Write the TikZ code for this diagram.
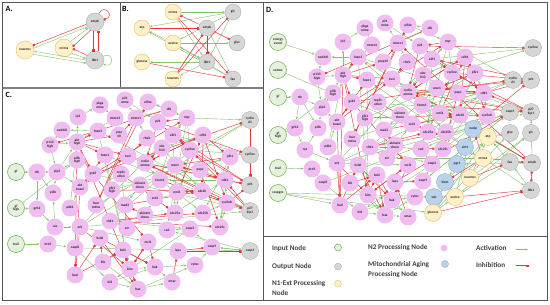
\documentclass[tikz,border=0pt]{standalone}
\usepackage{fontspec}
\setmainfont{Carlito}
\usepackage{xcolor}
\usepackage{tikz}
\usetikzlibrary{arrows.meta,backgrounds}
\definecolor{nodepink}{HTML}{F0BDF0}
\definecolor{nodegray}{HTML}{D6D6D6}
\definecolor{nodeyellow}{HTML}{FFF0C8}
\definecolor{rimyellow}{HTML}{E0C070}
\definecolor{nodegreen}{HTML}{E4F1DC}
\definecolor{rimgreen}{HTML}{72AE4E}
\definecolor{nodeblue}{HTML}{B9D3EC}
\definecolor{actgreen}{HTML}{86C06A}
\definecolor{inhred}{HTML}{E2353D}
\definecolor{framegray}{HTML}{555555}
\definecolor{legendgray}{HTML}{404040}

% links of the N2 network (panels C and D)
\newcommand{\netact}{gf/rtk, gfh/grb2, gfh/pi3kh, rtk/grb2, rtk/pi3k, rtk/pip3, grb2/ras, ras/erk, ras/pi3k,
  pi3k/pip3, pi3kh/pip3, p110h/pip3, p110h/akth, pip3/aktb, pip3/akth, pdk1/aktb, pdk1/akth, mtorc2/akth,
  ip3/pkga, akth/ip3, nedd4l/p110h, pkga/mtorc2, rheb/mtorc1, mtorc1/s6k, mtorc1/p21mma, p21mma/p21,
  s6k/eif4e, eif4e/myc, erk/myc, erk/cycD1, erk/mcl1, myc/cycD1, myc/e2f1, myc/cycE, myc/cad, e2f1/cycE,
  e2f1/cycA, e2f1/cdc25a, e2f1/cycEo, e2f1/foxm1, cycE/cycEo, cycE/cdc25a, cycA/foxm1, cdc25a/cdk1,
  cdc25a/cycE, foxm1/plk1, foxm1/cycB, foxm1/cdc25b, plk1/cdc25c, plk1/cdc25b, cdk1/foxm1, cdk1/plk1,
  cdk1/cdc25c, cycB/cdk1, cdc25b/cycB, cdc25c/cycB, papc/cdk1, ubch10/cdc20, cdh1/ubch10, ukin/mad2,
  akin/ect2, ect2/cdc20, replic/atr, atr/chk1, chk1/wee1, chk1/casp2, casp2/bid, casp2/cad, foxo3/p27,
  foxo3/bim, foxo1/p27, foxo1/bim, foxo3/nedd4l, trail/dr45, dr45/casp8, casp8/bid, casp8/casp3, bid/bax,
  bid/bak, bim/bax, bim/bak, bik/bax, bax/cytoc, bak/cytoc, bax/smac, bak/smac, cytoc/casp9, casp9/casp3,
  casp3/cad, casp3/casp9, casp9/casp2, plk1h/plk1, gsk3/p27, fourm/cycD1, cycA/cdk1, erk/p27}
\newcommand{\netinh}{akth/foxo3, akth/foxo1, akth/tsc2, akth/pras40, akth/gsk3, aktb/gsk3, aktb/bad,
  aktb/foxo1, aktb/tsc2, akth/bad, akth/bim, tsc2/rheb, pras40/mtorc1, s6k/p110h, mtorc1/fourm,
  fourm/eif4e, gsk3/myc, gsk3/cycD1, gsk3/mcl1, p21/cycE, p21/cdk1, p21/cycA, p21/cycEo, p27/cycE,
  p27/cycA, p27/cdk1, prb/e2f1, cycD1/prb, cycE/prb, cycA/prb, cycA/cdh1, cdh1/cycA, cdh1/cycB,
  cdh1/plk1, cdh1/cdc20, emi1/cdh1, emi1/cdc20, cdc20/cycB, cdc20/cycA, cdc20/emi1, wee1/cdk1,
  cdk1/wee1, plk1/wee1, chk1/cdc25a, chk1/cdc25b, chk1/cdc25c, mad2/cdc20, akin/mad2, papc/cdc25c,
  erk/bim, erk/bad, bad/bclxl, bad/bcl2, bik/bcl2, bik/bclxl, bim/bcl2, bim/mcl1, bcl2/bax, bcl2/bak,
  bclxl/bak, bclxl/bax, mcl1/bak, mcl1/bim, iaps/casp9, iaps/casp3, smac/iaps, foxm1/p27, myc/p21,
  plk1h/cdc20, ubch10/cycA, cdk1/prb, cycB/prb, replic/cdc25a}
% extra links of the full network (panel D)
\newcommand{\mitoact}{energy/nedd4l, extros/mtros, caspgro/glucose, caspgro/bad, caspgro/acetca,
  nadp/sirt1, sirt1/pgc1, pgc1/tfam, tfam/atp, ampk/pgc1, ampk/nadp, sirt1/foxo3, sirt1/foxo1,
  glucose/atp, glucose/acetca, glucose/gluc, fao/acetca, fao/atp, ampk/fao, ampk/tsc2, ampk/foxo3,
  ampk/p27, mtros/atr, mtros/vdc, vdc/cytoc, acetca/glv, atp/gluc, nuwnos/atp, acetca/nadp, lkb1/fao,
  mtros/lkb1, nuwnos/glv}
\newcommand{\mitoinh}{ampk/mtorc1, atp/ampk, acetca/lkb1, glucose/lkb1, nuwnos/fao, mtros/tfam,
  mtros/nadp, mtros/ampk, ampk/lkb1, lkb1/ampk}

\begin{document}
\begin{tikzpicture}[
  x=1pt, y=-1pt,
  netnode/.style={circle, inner sep=0pt, minimum size=17pt, align=center,
                  font=\fontsize{3.5}{3.8}\selectfont\bfseries, text=black!85},
  n2/.style={netnode, fill=nodepink},
  n1/.style={netnode, fill=nodeyellow, draw=rimyellow, line width=0.4pt},
  outnode/.style={netnode, fill=nodegray, draw=gray!70, line width=0.3pt},
  inputnode/.style={netnode, fill=nodegreen, draw=rimgreen, line width=0.5pt},
  mito/.style={netnode, fill=nodeblue, draw=nodeblue!75!black, line width=0.3pt},
  act/.style={-{Stealth[length=2.6pt,width=2.2pt]}, actgreen, line width=0.4pt},
  inh/.style={-{Square[length=2pt,width=2pt]}, inhred, line width=0.45pt},
  panelline/.style={framegray, line width=0.9pt},
  panelletter/.style={anchor=west, inner sep=0pt, font=\fontsize{8}{9}\selectfont\bfseries},
  legendlabel/.style={anchor=west, inner sep=0pt, align=left,
                      font=\fontsize{7.2}{9.8}\selectfont\bfseries, text=legendgray},
]
\useasboundingbox (0,0) rectangle (550,305);

% panel frames
\draw[panelline] (2.5,2.5) rectangle (547,300.5);
\draw[panelline] (120,2.5) -- (120,88);
\draw[panelline, gray, line width=1.5pt] (2.5,88) -- (263,88);
\draw[panelline] (263,2.5) -- (263,300.5);
\draw[panelline] (263,236) -- (547,236);

\node[panelletter] (lbl-a) at (5.5,9) {A.};
\node[panelletter] (lbl-b) at (122,9) {B.};
\node[panelletter] (lbl-c) at (5.5,95) {C.};
\node[panelletter] (lbl-d) at (266,10) {D.};

% A: ampk / lkb1 loop
\node[outnode, minimum size=18pt] (a-ampk) at (95,22) {ampk};
\node[n1, minimum size=18pt] (a-nuwnos) at (25,50) {nuwnos};
\node[n1, minimum size=18pt] (a-mtros) at (64,48) {mtros};
\node[outnode, minimum size=18pt] (a-lkb1) at (95,60) {lkb1};

\draw[inh] (a-ampk.195) -- (a-nuwnos.30);
\draw[act] (a-nuwnos.12) -- (a-ampk.212);
\draw[act] (a-mtros.45) -- (a-ampk.222);
\draw[inh] (a-ampk.242) -- (a-mtros.10);
\draw[inh] (a-lkb1.150) -- (a-mtros.-5);
\draw[act] (a-mtros.-35) -- (a-lkb1.170);
\draw[act] (a-lkb1.180) -- (a-nuwnos.-8);
\draw[act] (a-nuwnos.-28) -- (a-lkb1.200);
\draw[inh] (a-ampk.-100) -- (a-lkb1.100);
\draw[inh] (a-lkb1.70) -- (a-ampk.-70);
\draw[inh] (a-ampk.65) to[out=65, in=15, looseness=4] (a-ampk.15);
\draw[act] (a-lkb1.25) to[out=25, in=-25, looseness=4] (a-lkb1.-25);

% B: energy metabolism
\node[n1, minimum size=16pt] (b-mtros) at (173,12) {mtros};
\node[n1, minimum size=16pt] (b-atp) at (142,28) {atp};
\node[n1, minimum size=16pt] (b-acetca) at (173,43) {acetca};
\node[n1, minimum size=16pt] (b-glucose) at (142,62) {glucose};
\node[n1, minimum size=16pt] (b-nuwnos) at (173,79) {nuwnos};
\node[outnode, minimum size=16pt] (b-ampk) at (207,28) {ampk};
\node[outnode, minimum size=16pt] (b-lkb1) at (207,62) {lkb1};
\node[outnode, minimum size=16pt] (b-glv) at (233,12) {glv};
\node[outnode, minimum size=16pt] (b-gluc) at (237,43) {gluc};
\node[outnode, minimum size=16pt] (b-fao) at (233,79) {fao};

\begin{scope}[on background layer]
\foreach \a/\b in {glv/atp, mtros/glv, acetca/gluc, acetca/atp, lkb1/nuwnos, lkb1/glv, mtros/lkb1,
  fao/acetca, lkb1/glucose, acetca/lkb1, ampk/nuwnos, glv/acetca, fao/atp, ampk/fao}
  \draw[act] (b-\a) -- (b-\b);
\foreach \a/\b in {ampk/mtros, atp/ampk, ampk/gluc, mtros/fao, glucose/fao, nuwnos/ampk, ampk/lkb1,
  nuwnos/glv}
  \draw[inh] (b-\a) -- (b-\b);
\end{scope}

% C: N2 network
\node[inputnode] (c-gf) at (16,172) {gf};
\node[inputnode] (c-gfh) at (16,208) {gf\\high};
\node[inputnode] (c-trail) at (16,244) {trail};
\node[n2] (c-pkga) at (100,105) {pkga\\mma};
\node[n2] (c-p21mma) at (125,100) {p21\\mma};
\node[n2] (c-ip3) at (78,117) {ip3};
\node[n2] (c-mtorc2) at (115,118) {mtorc2};
\node[n2] (c-mtorc1) at (136,118) {mtorc1};
\node[n2] (c-eif4e) at (148,102) {eif4e};
\node[n2] (c-s6k) at (169,109) {s6k};
\node[n2] (c-myc) at (187,118) {myc};
\node[n2] (c-p21) at (158,122) {p21};
\node[n2] (c-nedd4l) at (62,130) {nedd4l};
\node[n2] (c-foxo3) at (98,131) {foxo3};
\node[n2] (c-pras40) at (119,135) {pras\\40};
\node[n2] (c-rheb) at (147,138) {rheb};
\node[n2] (c-e2f1) at (173,135) {e2f1};
\node[n2] (c-cdh1) at (203,135) {cdh1};
\node[n2] (c-p110h) at (50,145) {p110\\high};
\node[n2] (c-akth) at (77,142) {akt\\high};
\node[n2] (c-foxo1) at (105,155) {foxo1};
\node[n2] (c-tsc2) at (128,156) {tsc2};
\node[n2] (c-ubch10) at (162,148) {ubc\\h10};
\node[n2] (c-cycE) at (190,150) {cycline};
\node[n2] (c-plk1) at (230,157) {plk1};
\node[n2] (c-pi3kh) at (77,160) {pi3k\\high};
\node[n2] (c-rtk) at (37,172) {rtk};
\node[n2] (c-pip3) at (57,172) {pip3};
\node[n2] (c-gsk3) at (93,174) {gsk3};
\node[n2] (c-replic) at (121,174) {replic\\ation};
\node[n2] (c-cycA) at (145,163) {cyclin\\amma};
\node[n2] (c-wee1) at (175,165) {wee1};
\node[n2] (c-papc) at (200,170) {papc};
\node[n2] (c-foxm1) at (160,180) {foxm1};
\node[n2] (c-cdk1) at (225,180) {cdk1};
\node[n2] (c-ukin) at (140,185) {ukinetc\\chore};
\node[n2] (c-aktb) at (80,187) {akt\\basal};
\node[n2] (c-plk1h) at (112,190) {plk1\\high};
\node[n2] (c-pi3k) at (53,193) {pi3k};
\node[n2] (c-emi1) at (177,192) {emi1};
\node[n2] (c-cdc20) at (202,191) {cdc20};
\node[n2] (c-ect2) at (155,198) {ect2};
\node[n2] (c-cycB) at (227,203) {cyclinb};
\node[n2] (c-grb2) at (37,209) {grb2};
\node[n2] (c-pdk1) at (70,208) {pdk1};
\node[n2] (c-fourm) at (96,205) {four\\mdna};
\node[n2] (c-mad2) at (125,205) {mad2};
\node[n2] (c-akin) at (145,215) {akinetc\\chore};
\node[n2] (c-cdc25a) at (175,213) {cdc25a};
\node[n2] (c-cdc25b) at (203,213) {cdc25b};
\node[n2] (c-chk1) at (110,221) {chk1};
\node[n2] (c-ras) at (55,227) {ras};
\node[n2] (c-erk) at (80,227) {erk};
\node[n2] (c-atr) at (127,228) {atr};
\node[n2] (c-cad) at (167,230) {cad};
\node[n2] (c-casp2) at (190,229) {casp2};
\node[n2] (c-cdc25c) at (220,227) {cdc25c};
\node[n2] (c-dr45) at (48,244) {dr45};
\node[n2] (c-bclxl) at (100,238) {bclxl};
\node[n2] (c-mcl1) at (148,242) {mcl1};
\node[n2] (c-casp8) at (75,248) {casp8};
\node[n2] (c-bcl2) at (123,250) {bcl2};
\node[n2] (c-iaps) at (178,251) {iaps};
\node[n2] (c-casp9) at (212,247) {casp9};
\node[n2] (c-bik) at (103,262) {bik};
\node[n2] (c-bim) at (130,269) {bim};
\node[n2] (c-bak) at (155,267) {bak};
\node[n2] (c-cytoc) at (195,265) {cytoc};
\node[n2] (c-bad) at (75,275) {bad};
\node[n2] (c-bid) at (110,282) {bid};
\node[n2] (c-smac) at (172,282) {smac};
\node[n2] (c-bax) at (138,289) {bax};
\node[outnode] (c-cycD1) at (250,120) {cyclin\\d1};
\node[outnode] (c-cycEo) at (250,155) {cycline};
\node[outnode] (c-prb) at (250,185) {prb};
\node[outnode] (c-p27) at (250,211) {p27\\kip1};
\node[outnode] (c-casp3) at (250,251) {casp3};

\begin{scope}[on background layer]
\foreach \a/\b in \netact \draw[act] (c-\a) -- (c-\b);
\foreach \a/\b in \netinh \draw[inh] (c-\a) -- (c-\b);
\end{scope}

% D: full network with mitochondrial aging nodes
\node[inputnode] (d-energy) at (278,42) {energy\\event};
\node[inputnode] (d-extros) at (278,70) {extros};
\node[inputnode] (d-gf) at (278,97) {gf};
\node[inputnode] (d-gfh) at (278,135) {gf\\high};
\node[inputnode] (d-trail) at (278,168) {trail};
\node[inputnode] (d-caspgro) at (278,193) {caspgro};
\node[n2] (d-pkga) at (365,28) {pkga\\mma};
\node[n2] (d-p21mma) at (385,23) {p21\\mma};
\node[n2] (d-eif4e) at (408,25) {eif4e};
\node[n2] (d-s6k) at (430,28) {s6k};
\node[n2] (d-myc) at (448,42) {myc};
\node[n2] (d-ip3) at (343,42) {ip3};
\node[n2] (d-mtorc2) at (372,45) {mtorc2};
\node[n2] (d-mtorc1) at (398,43) {mtorc1};
\node[n2] (d-p21) at (420,46) {p21};
\node[n2] (d-nedd4l) at (323,57) {nedd4l};
\node[n2] (d-foxo3) at (358,57) {foxo3};
\node[n2] (d-pras40) at (383,62) {pras40};
\node[n2] (d-rheb) at (407,62) {rheb};
\node[n2] (d-e2f1) at (432,59) {e2f1};
\node[n2] (d-cdh1) at (465,57) {cdh1};
\node[n2] (d-p110h) at (317,77) {p110\\high};
\node[n2] (d-akth) at (343,75) {akt\\high};
\node[n2] (d-foxo1) at (367,80) {foxo1};
\node[n2] (d-tsc2) at (392,79) {tsc2};
\node[n2] (d-ubch10) at (423,75) {ubc\\h10};
\node[n2] (d-cycE) at (452,73) {cycline};
\node[n2] (d-plk1) at (475,73) {plk1};
\node[n2] (d-rtk) at (300,97) {rtk};
\node[n2] (d-pi3kh) at (333,93) {pi3k\\high};
\node[n2] (d-gsk3) at (352,102) {gsk3};
\node[n2] (d-replic) at (378,102) {replic\\ation};
\node[n2] (d-cycA) at (408,92) {cyclin\\amma};
\node[n2] (d-wee1) at (437,88) {wee1};
\node[n2] (d-papc) at (458,93) {papc};
\node[n2] (d-cdk1) at (484,93) {cdk1};
\node[n2] (d-pip3) at (322,108) {pip3};
\node[n2] (d-foxm1) at (422,105) {foxm1};
\node[n2] (d-ukin) at (400,115) {ukinetc\\chore};
\node[n2] (d-emi1) at (440,113) {emi1};
\node[n2] (d-cdc20) at (460,115) {cdc20};
\node[n2] (d-cycB) at (487,116) {cyclinb};
\node[n2] (d-aktb) at (337,122) {akt\\basal};
\node[n2] (d-plk1h) at (365,118) {plk1\\high};
\node[n2] (d-pi3k) at (318,128) {pi3k};
\node[n2] (d-grb2) at (295,128) {grb2};
\node[n2] (d-mad2) at (384,130) {mad2};
\node[n2] (d-ect2) at (412,124) {ect2};
\node[n2] (d-cdc25a) at (428,132) {cdc25a};
\node[n2] (d-cdc25b) at (446,132) {cdc25b};
\node[n2] (d-fourm) at (352,139) {four\\mdna};
\node[n2] (d-pdk1) at (328,147) {pdk1};
\node[n2] (d-ras) at (305,150) {ras};
\node[n2] (d-chk1) at (370,147) {chk1};
\node[n2] (d-akin) at (395,145) {akinetc\\chore};
\node[n2] (d-cad) at (421,149) {cad};
\node[n2] (d-cdc25c) at (443,149) {cdc25c};
\node[n2] (d-erk) at (337,163) {erk};
\node[n2] (d-bclxl) at (358,165) {bclxl};
\node[n2] (d-atr) at (387,158) {atr};
\node[n2] (d-mcl1) at (408,165) {mcl1};
\node[n2] (d-casp2) at (432,164) {casp2};
\node[n2] (d-dr45) at (312,169) {dr45};
\node[n2] (d-bcl2) at (377,175) {bcl2};
\node[n2] (d-iaps) at (395,182) {iaps};
\node[n2] (d-casp9) at (423,181) {casp9};
\node[n2] (d-casp8) at (323,183) {casp8};
\node[n2] (d-bik) at (350,183) {bik};
\node[n2] (d-bim) at (368,195) {bim};
\node[n2] (d-bak) at (392,200) {bak};
\node[n2] (d-cytoc) at (415,197) {cytoc};
\node[n2] (d-bad) at (340,205) {bad};
\node[n2] (d-bid) at (360,212) {bid};
\node[n2] (d-bax) at (385,215) {bax};
\node[n2] (d-smac) at (408,217) {smac};
\node[outnode] (d-cycEo) at (533,48) {cycline};
\node[outnode] (d-cycD1) at (513,80) {cyclin\\d1};
\node[outnode] (d-prb) at (531,80) {prb};
\node[outnode] (d-casp3) at (510,112) {casp3};
\node[outnode] (d-p27) at (531,112) {p27\\kip1};
\node[outnode] (d-gluc) at (510,133) {gluc};
\node[outnode] (d-glv) at (531,133) {glv};
\node[outnode] (d-fao) at (510,162) {fao};
\node[outnode] (d-ampk) at (532,163) {ampk};
\node[outnode] (d-lkb1) at (531,190) {lkb1};
\node[mito] (d-nadp) at (473,129) {nadp};
\node[mito] (d-sirt1) at (465,147) {sirt1};
\node[mito] (d-pgc1) at (457,164) {pgc1};
\node[mito] (d-tfam) at (445,182) {tfam};
\node[mito] (d-vdc) at (434,197) {vdc};
\node[n1] (d-atp) at (488,137) {atp};
\node[n1] (d-mtros) at (483,158) {mtros};
\node[n1] (d-nuwnos) at (470,178) {nuwnos};
\node[n1] (d-acetca) at (455,197) {acetca};
\node[n1] (d-glucose) at (433,213) {glucose};

\begin{scope}[on background layer]
\foreach \a/\b in \netact \draw[act] (d-\a) -- (d-\b);
\foreach \a/\b in \mitoact \draw[act] (d-\a) -- (d-\b);
\foreach \a/\b in \netinh \draw[inh] (d-\a) -- (d-\b);
\foreach \a/\b in \mitoinh \draw[inh] (d-\a) -- (d-\b);
\end{scope}

% legend
\node[legendlabel] (lg-input) at (272,249) {Input Node};
\node[inputnode, minimum size=7pt] (lg-inputdot) at (338,247.5) {};
\node[legendlabel] (lg-output) at (272,267) {Output Node};
\node[outnode, minimum size=7pt] (lg-outputdot) at (338,266.5) {};
\node[legendlabel] (lg-n1) at (272,288) {N1-Ext Processing\\Node};
\node[n1, minimum size=7pt] (lg-n1dot) at (338,283.5) {};
\node[legendlabel] (lg-n2) at (368,247.5) {N2 Processing Node};
\node[n2, minimum size=7pt] (lg-n2dot) at (444,248) {};
\node[legendlabel] (lg-mito) at (368,269.5) {Mitochondrial Aging\\Processing Node};
\node[mito, minimum size=7pt] (lg-mitodot) at (445,264) {};
\node[legendlabel] (lg-act) at (476,247.5) {Activation};
\coordinate (lg-acta) at (516,249.5);
\coordinate (lg-actb) at (528,249.5);
\draw[act] (lg-acta) -- (lg-actb);
\node[legendlabel] (lg-inh) at (476,264.5) {Inhibition};
\coordinate (lg-inha) at (516,265.5);
\coordinate (lg-inhb) at (528,265.5);
\draw[inh] (lg-inha) -- (lg-inhb);

\end{tikzpicture}
\end{document}
